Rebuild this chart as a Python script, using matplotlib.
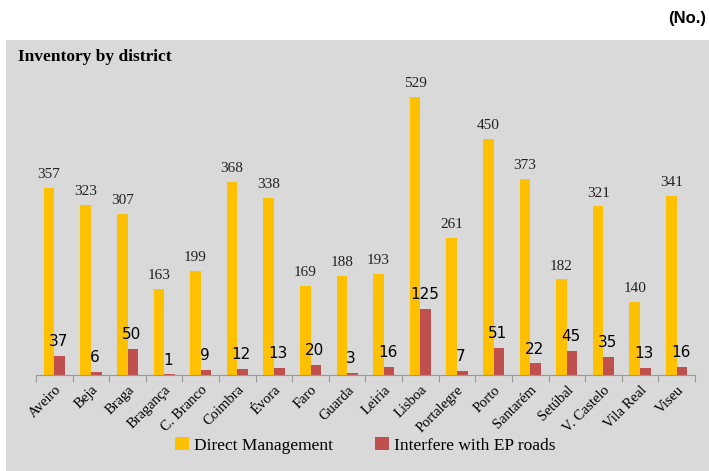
import numpy as np
import matplotlib
matplotlib.use("Agg")
import matplotlib.pyplot as plt
from matplotlib.patches import Rectangle

districts = ["Aveiro", "Beja", "Braga", "Bragança", "C. Branco", "Coimbra", "Évora",
             "Faro", "Guarda", "Leiria", "Lisboa", "Portalegre", "Porto", "Santarém",
             "Setúbal", "V. Castelo", "Vila Real", "Viseu"]
direct_mgmt = [357, 323, 307, 163, 199, 368, 338, 169, 188, 193, 529, 261, 450, 373,
               182, 321, 140, 341]
interfere_ep = [37, 6, 50, 1, 9, 12, 13, 20, 3, 16, 125, 7, 51, 22, 45, 35, 13, 16]

YELLOW = "#FFC000"
RED = "#C0504D"
BG = "#D9D9D9"
SERIF = "Liberation Serif"

W, H = 709, 471
fig = plt.figure(figsize=(W / 100, H / 100), dpi=100)
fig.patches.append(Rectangle((6 / W, 0), 1 - 6 / W, 1 - 40 / H,
                             transform=fig.transFigure, facecolor=BG,
                             edgecolor="none", zorder=-10))

ax = fig.add_axes([36 / W, 1 - 375 / H, 659 / W, 315 / H])
ax.set_facecolor(BG)
ax.patch.set_alpha(0)

x = np.arange(len(districts))
bw = 0.29
ax.bar(x - bw / 2, direct_mgmt, bw, color=YELLOW, label="Direct Management")
ax.bar(x + bw / 2, interfere_ep, bw, color=RED, label="Interfere with EP roads")

# value labels: serif above yellow bars, sans above red bars
for i, v in enumerate(direct_mgmt):
    ax.annotate(str(v), (x[i] - bw / 2, v), textcoords="offset points",
                xytext=(0, 5), ha="center", va="bottom", fontsize=11,
                family=SERIF, color="#222222")
for i, v in enumerate(interfere_ep):
    ax.annotate(str(v), (x[i] + bw / 2, v), textcoords="offset points",
                xytext=(-1, 5), ha="center", va="bottom", fontsize=11,
                family="DejaVu Sans", color="black")

ax.set_xlim(-0.5, len(districts) - 0.5)
ax.set_ylim(0, 600)
ax.set_yticks([])
for s in ["top", "right", "left"]:
    ax.spines[s].set_visible(False)
ax.spines["bottom"].set_color("#999999")
ax.set_xticks(np.arange(len(districts) + 1) - 0.5, minor=False)
ax.set_xticklabels([])
ax.tick_params(axis="x", which="major", length=5, color="#999999")
ax.set_xticks(x, minor=True)
ax.set_xticklabels(districts, minor=True, rotation=45, ha="right",
                   rotation_mode="anchor", fontsize=10.5, family=SERIF)
ax.tick_params(axis="x", which="minor", length=0, pad=6)

ax.legend(loc="lower center", bbox_to_anchor=(0.5, -0.3), ncol=2, frameon=False,
          prop={"family": SERIF, "size": 12.5}, handlelength=0.8, handleheight=0.8,
          handletextpad=0.3, columnspacing=2.4)

fig.text(18 / W, 1 - 57 / H, "Inventory by district", fontsize=12.5,
         fontweight="bold", family=SERIF, va="center", ha="left")
fig.text(706 / W, 1 - 19 / H, "(No.)", fontsize=12, fontweight="bold",
         family="Liberation Sans", va="center", ha="right")

fig.savefig("out.png", dpi=100)
